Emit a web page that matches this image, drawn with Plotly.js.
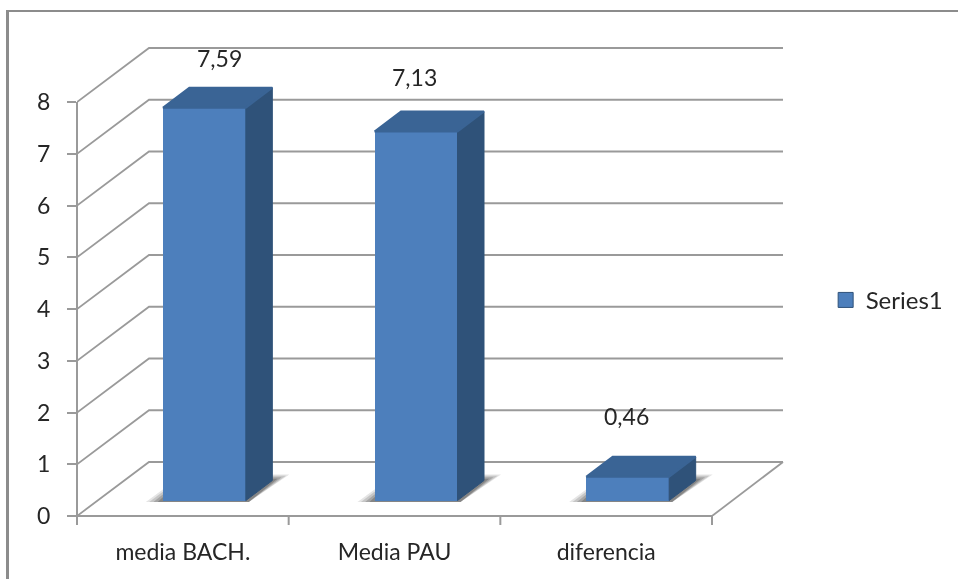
<!DOCTYPE html>
<html>
<head>
<meta charset="utf-8">
<script src="https://cdn.plot.ly/plotly-3.0.1.min.js"></script>
<style>
html,body{margin:0;padding:0;background:#fff;width:958px;height:579px;overflow:hidden}
#frame{position:absolute;left:6px;top:10px;width:952px;height:569px;border-top:2px solid #8c8c8c;border-left:3px solid #8c8c8c;box-sizing:border-box}
#chart{position:absolute;left:0;top:0;width:958px;height:579px;filter:blur(0.45px)}
</style>
</head>
<body>
<div id="chart"></div>
<div id="frame"></div>
<script>
const categories = ["media BACH.", "Media PAU", "diferencia"];
const values = [7.59, 7.13, 0.46];
const valueLabels = ["7,59", "7,13", "0,46"];
const seriesName = "Series1";
const yTicks = [0, 1, 2, 3, 4, 5, 6, 7, 8];

// pixel scales of the plot area, used to express the 3D projection in axis units
const PXX = 211.67, PXY = 51.75;
const px = v => v / PXX, py = v => v / PXY;
const WALL_DX = px(72), WALL_DY = py(54);
const BAR_W = px(83), BAR_SHIFT = px(21.5), BAR_BASE = py(15.5);
const DEPTH_DX = px(26.5), DEPTH_DY = py(20);
const X0 = -0.5, X_RANGE = [X0, X0 + 713 / PXX], Y_RANGE = [0, 474 / PXY];
const FONT = "Lato, Carlito, 'Open Sans', sans-serif";
const C_TEXT = "#262626";
const C_FRONT = "#4d7fbc", C_TOP = "#3a6495", C_SIDE = "#2f5279", C_GRID = "#9a9a9a";
const labelShift = [[37, -50], [20, -55], [20, -61]];

const shapes = [];
// back wall gridlines with their diagonals on the side wall
yTicks.forEach(v => {
  shapes.push({type: "path", layer: "below", xref: "x", yref: "y",
    path: `M ${X0} ${v} L ${X0 + WALL_DX} ${v + WALL_DY} L ${X0 + px(706)} ${v + WALL_DY}`,
    line: {color: C_GRID, width: 1.8}});
});
// floor right edge
shapes.push({type: "line", layer: "below", xref: "x", yref: "y",
  x0: 2.5, y0: 0, x1: X0 + px(706), y1: WALL_DY, line: {color: C_GRID, width: 1.8}});
// soft floor shadows
categories.forEach((c, i) => {
  const fl = i + BAR_SHIFT - BAR_W / 2, fr = fl + BAR_W;
  [[1.0, .22, "#888"], [0.8, .28, "#777"], [0.55, .34, "#666"], [0.3, .4, "#555"]].forEach(([k, op, col]) => {
    const p = [[fl - px(17 * k), BAR_BASE - py(1.5)],
               [fr + px(3), BAR_BASE - py(1.5)],
               [fr + DEPTH_DX + px(17 * k), BAR_BASE + DEPTH_DY + py(6 * k)],
               [fr - px(14), BAR_BASE + DEPTH_DY + py(6 * k)],
               [fl, BAR_BASE + py(11 * k)]];
    shapes.push({type: "path", layer: "below", xref: "x", yref: "y",
      path: "M " + p.map(q => q.join(" ")).join(" L ") + " Z",
      fillcolor: col, opacity: op, line: {width: 0}});
  });
});
// axis lines and category separators: paper references are not clipped to the plot area
const toPaperX = x => (x - X_RANGE[0]) / (X_RANGE[1] - X_RANGE[0]);
const toPaperY = y => (y - Y_RANGE[0]) / (Y_RANGE[1] - Y_RANGE[0]);
const axisSeg = (x0, y0, x1, y1) => shapes.push({type: "line", layer: "above", xref: "paper", yref: "paper",
  x0: toPaperX(x0), y0: toPaperY(y0), x1: toPaperX(x1), y1: toPaperY(y1),
  line: {color: C_GRID, width: 2}});
axisSeg(X0, 8, X0, 0);
axisSeg(X0, 0, 2.5, 0);
[0, 1, 2, 3].forEach(k => axisSeg(X0 + k, 0, X0 + k, -py(9)));

// 3D faces of each bar, derived from its value
const sideX = [], sideY = [], topX = [], topY = [];
values.forEach((v, i) => {
  const l = i + BAR_SHIFT - BAR_W / 2, r = l + BAR_W, t = BAR_BASE + v;
  sideX.push(r, r + DEPTH_DX, r + DEPTH_DX, r, r, null);
  sideY.push(BAR_BASE, BAR_BASE + DEPTH_DY, t + DEPTH_DY, t, BAR_BASE, null);
  topX.push(l, l + DEPTH_DX, r + DEPTH_DX, r, l, null);
  topY.push(t, t + DEPTH_DY, t + DEPTH_DY, t, t, null);
});

const traces = [
  {type: "bar", x: categories.map((c, i) => i), y: values, base: BAR_BASE,
   width: BAR_W, offset: BAR_SHIFT - BAR_W / 2, name: seriesName, showlegend: false,
   marker: {color: C_FRONT, line: {width: 0}}, hoverinfo: "skip"},
  {type: "scatter", mode: "lines", x: sideX, y: sideY, fill: "toself", fillcolor: C_SIDE,
   line: {color: C_SIDE, width: 1}, showlegend: false, hoverinfo: "skip"},
  {type: "scatter", mode: "lines", x: topX, y: topY, fill: "toself", fillcolor: C_TOP,
   line: {color: C_TOP, width: 2}, showlegend: false, hoverinfo: "skip"},
  {type: "scatter", mode: "markers", x: [null], y: [null], name: seriesName, showlegend: true,
   marker: {symbol: "square", size: 15, color: C_FRONT, line: {color: C_SIDE, width: 1}}}
];

const layout = {
  width: 958, height: 579,
  margin: {l: 77, r: 168, t: 42, b: 63, pad: 0, autoexpand: false},
  paper_bgcolor: "#fff", plot_bgcolor: "rgba(0,0,0,0)",
  font: {family: FONT, size: 23, color: C_TEXT},
  showlegend: true,
  legend: {x: 1.05, y: 0.455, xanchor: "left", yanchor: "middle", bgcolor: "rgba(0,0,0,0)",
           font: {family: FONT, size: 24, color: C_TEXT}},
  xaxis: {range: X_RANGE, tickmode: "array", tickvals: categories.map((c, i) => i),
          ticktext: categories, ticks: "", showgrid: false, zeroline: false, showline: false,
          ticklabelstandoff: 20, tickfont: {family: FONT, size: 23, color: C_TEXT}},
  yaxis: {range: Y_RANGE, tickmode: "array", tickvals: yTicks, ticktext: yTicks.map(String),
          ticks: "outside", ticklen: 9, tickwidth: 2, tickcolor: C_GRID, showgrid: false,
          zeroline: false, showline: false, ticklabelstandoff: 12,
          tickfont: {family: FONT, size: 23, color: C_TEXT}},
  shapes: shapes,
  annotations: values.map((v, i) => ({
    x: i, y: v + BAR_BASE, xref: "x", yref: "y",
    text: valueLabels[i], showarrow: false, xshift: labelShift[i][0], yshift: -labelShift[i][1],
    font: {family: FONT, size: 23, color: C_TEXT}
  })),
  bargap: 0
};
Plotly.newPlot("chart", traces, layout, {staticPlot: true, displayModeBar: false});
</script>
</body>
</html>
